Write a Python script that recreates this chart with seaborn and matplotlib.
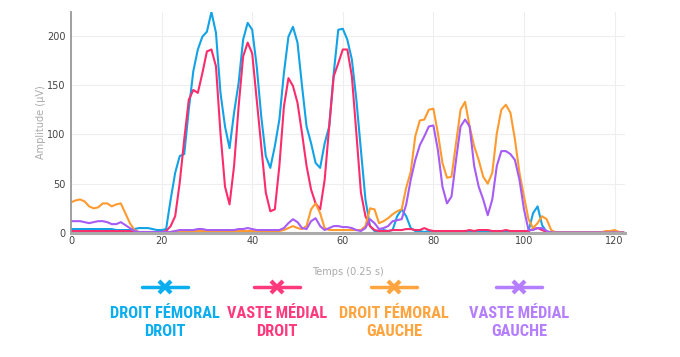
import numpy as np
import pandas as pd
import seaborn as sns
import matplotlib.pyplot as plt
from matplotlib.lines import Line2D

# EMG envelope data, one value per 0.25 s step
temps = list(range(123))

droit_femoral_droit = [
    4, 4, 4, 4, 4, 4, 4, 4, 4, 4, 3, 3, 3, 3, 4, 5, 5, 5, 4, 3,
    3, 4, 34, 61, 78, 80, 125, 164, 186, 199, 204, 224, 203, 142, 108, 86, 122, 152, 196, 213,
    206, 169, 118, 78, 66, 88, 115, 162, 199, 209, 193, 149, 108, 91, 71, 66, 91, 108, 162, 206,
    207, 196, 176, 135, 84, 34, 7, 2, 2, 3, 2, 3, 17, 24, 17, 5, 2, 2, 1, 2,
    2, 1, 1, 1, 2, 1, 1, 1, 1, 2, 2, 1, 1, 1, 2, 2, 1, 1, 1, 1,
    2, 2, 20, 27, 8, 1, 0.5, 0.5, 0.5, 0.5, 0.5, 0.5, 0.5, 0.5, 0.5, 0.5, 0.5, 0.5, 0.5, 0.5,
    0.5, 0.5, 0.5,
]

vaste_medial_droit = [
    2, 2, 2, 2, 2, 2, 2, 2, 2, 2, 2, 2, 2, 2, 1, 1, 1, 1, 1, 1,
    1, 2, 7, 17, 51, 95, 135, 145, 142, 162, 184, 186, 169, 101, 47, 29, 68, 128, 179, 193,
    182, 135, 88, 41, 22, 24, 68, 128, 157, 149, 132, 101, 68, 44, 30, 24, 54, 108, 159, 172,
    186, 186, 159, 101, 41, 17, 7, 3, 2, 2, 2, 3, 3, 3, 4, 4, 3, 3, 5, 3,
    2, 2, 2, 2, 2, 2, 2, 2, 3, 2, 3, 3, 3, 2, 2, 2, 3, 2, 2, 2,
    2, 2, 4, 5, 3, 1, 0.5, 0.5, 0.5, 0.5, 0.5, 0.5, 0.5, 0.5, 0.5, 0.5, 0.5, 0.5, 0.5, 0.5,
    0.5, 0.5, 0.5,
]

droit_femoral_gauche = [
    31, 33, 34, 32, 27, 25, 26, 30, 30, 27, 29, 30, 20, 10, 3, 1, 1, 1, 1, 1,
    1, 1, 1, 2, 2, 2, 2, 2, 2, 2, 2, 2, 2, 2, 2, 2, 2, 2, 2, 2,
    2, 2, 2, 2, 2, 2, 2, 3, 5, 7, 5, 4, 7, 24, 30, 20, 5, 3, 3, 3,
    3, 3, 3, 3, 3, 7, 25, 24, 10, 12, 15, 19, 22, 24, 46, 62, 98, 114, 115, 125,
    126, 101, 71, 56, 57, 91, 125, 133, 108, 88, 74, 57, 50, 61, 101, 125, 130, 122, 95, 61,
    37, 14, 5, 10, 17, 14, 3, 0.5, 0.5, 0.5, 0.5, 0.5, 0.5, 0.5, 0.5, 0.5, 0.5, 0.5, 2, 2,
    3, 1, 0.5,
]

vaste_medial_gauche = [
    12, 12, 12, 11, 10, 11, 12, 12, 11, 9, 9, 11, 8, 5, 2, 1, 1, 1, 1, 1,
    1, 1, 1, 2, 3, 3, 3, 3, 4, 4, 3, 3, 3, 3, 3, 3, 3, 4, 4, 5,
    4, 3, 3, 3, 3, 3, 3, 5, 10, 14, 11, 5, 4, 12, 15, 7, 3, 5, 7, 7,
    6, 6, 5, 3, 2, 5, 14, 10, 4, 5, 7, 12, 13, 14, 29, 54, 74, 89, 98, 108,
    109, 84, 47, 30, 37, 74, 108, 115, 108, 68, 47, 34, 18, 34, 68, 83, 83, 80, 74, 54,
    24, 3, 3, 5, 5, 2, 0.5, 0.5, 0.5, 0.5, 0.5, 0.5, 0.5, 0.5, 0.5, 0.5, 0.5, 0.5, 0.5, 0.5,
    0.5, 0.5, 0.5,
]

noms = ["Droit fémoral droit", "Vaste médial droit", "Droit fémoral gauche", "Vaste médial gauche"]
labels = ["DROIT FÉMORAL\nDROIT", "VASTE MÉDIAL\nDROIT", "DROIT FÉMORAL\nGAUCHE", "VASTE MÉDIAL\nGAUCHE"]
couleurs = ["#12A3E6", "#FB2C6C", "#FF9A2E", "#A65CF5"]
couleurs_legende = ["#0AADEE", "#FF3A7C", "#FFA43F", "#B47EFF"]

df = pd.DataFrame({
    "Temps": temps * 4,
    "Amplitude": droit_femoral_droit + vaste_medial_droit + droit_femoral_gauche + vaste_medial_gauche,
    "Muscle": [n for n in noms for _ in temps],
})

sns.set_style("white")
plt.rcParams['font.family'] = ['DejaVu Sans']

fig = plt.figure(figsize=(6.8, 3.57), dpi=100)
ax = fig.add_axes([71 / 680, 1 - 233 / 357, (625 - 71) / 680, (233 - 12) / 357])

sns.lineplot(data=df, x="Temps", y="Amplitude", hue="Muscle", hue_order=noms,
             palette=couleurs, linewidth=1.5, legend=False, ax=ax)

ax.set_xlim(0, 122.3)
ax.set_ylim(0, 224)
ax.set_xticks([0, 20, 40, 60, 80, 100, 120])
ax.set_yticks([0, 50, 100, 150, 200])
ax.grid(True, color="#eeeeee", linewidth=0.8)
ax.set_axisbelow(True)
for s in ["top", "right"]:
    ax.spines[s].set_visible(False)
ax.spines["left"].set_color("#999999")
ax.spines["left"].set_linewidth(1.3)
ax.spines["bottom"].set_color("#aaaaaa")
ax.spines["bottom"].set_linewidth(2.2)
ax.tick_params(axis="x", length=0, labelsize=7, labelcolor="#444444", pad=2)
ax.tick_params(axis="y", length=0, labelsize=7, labelcolor="#444444", pad=4)
ax.set_xlabel("Temps (0.25 s)", fontsize=7, color="#aaaaaa", labelpad=15)
ax.set_ylabel("Amplitude (µV)", fontsize=7, color="#aaaaaa", labelpad=1)

# custom legend below the chart
police = ["Liberation Sans Narrow", "DejaVu Sans Condensed", "Roboto Condensed", "Roboto"]
renderer = fig.canvas.get_renderer()
centres = [164.5, 277, 394, 519]
textes = []
for cx, lab, c in zip(centres, labels, couleurs_legende):
    x0 = (cx - 23) / 680
    x1 = (cx + 23) / 680
    y = 1 - 286.7 / 357
    fig.add_artist(Line2D([x0, x1], [y, y], color=c, linewidth=2.5, transform=fig.transFigure))
    fig.add_artist(Line2D([cx / 680], [y], color=c, marker="x", markersize=9, markeredgewidth=3,
                          transform=fig.transFigure))
    t = fig.text(cx / 680, 1 - 322.5 / 357, lab, ha="center", va="center", color=c,
                 fontsize=13, fontweight="bold", linespacing=1.2, family=police)
    textes.append(t)

# one common size, so that the widest label fits its slot
size = 13
while max(t.get_window_extent(renderer).width for t in textes) > 110 and size > 8:
    size -= 0.25
    for t in textes:
        t.set_fontsize(size)

fig.savefig("out.png", dpi=100)
